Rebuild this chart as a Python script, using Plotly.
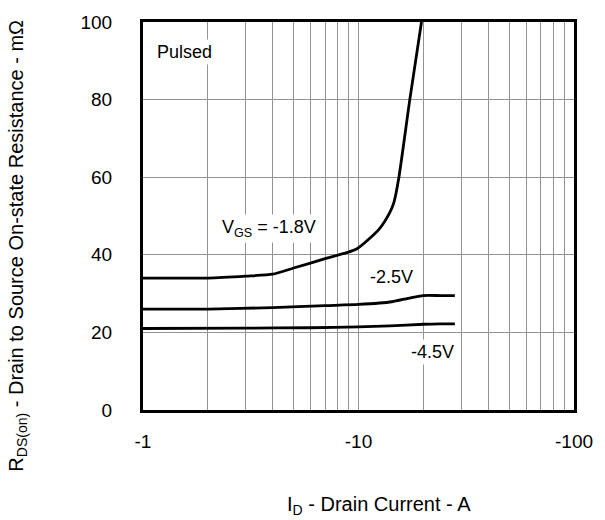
import math
import plotly.graph_objects as go

# Drain current magnitude (A) and on-resistance (mOhm) per gate voltage
id_18 = [1, 2, 3, 4, 5, 7, 9.8, 12.5, 14.0, 14.6, 15.4, 17.3, 19.6]
r_18 = [34, 34, 34.5, 35, 36.6, 39, 41.5, 46.7, 51, 53.5, 60, 80, 100]

id_25 = [1, 2, 4, 7, 10, 14.3, 17, 20, 24, 28]
r_25 = [26, 26, 26.4, 26.9, 27.2, 27.9, 28.8, 29.5, 29.5, 29.5]

id_45 = [1, 3, 6, 10, 14, 20, 24, 28]
r_45 = [21, 21.1, 21.2, 21.4, 21.7, 22.1, 22.2, 22.2]

x_tickvals = [1, 2, 3, 4, 5, 6, 7, 8, 9, 10, 20, 30, 40, 50, 60, 70, 80, 90, 100]
x_ticktext = ["-1"] + [""] * 8 + ["-10"] + [""] * 8 + ["-100"]
y_tickvals = [0, 20, 40, 60, 80, 100]

FONT = "Liberation Sans, Arial, sans-serif"

fig = go.Figure()
for xs, ys in [(id_18, r_18), (id_25, r_25), (id_45, r_45)]:
    fig.add_trace(go.Scatter(
        x=xs, y=ys, mode="lines",
        line=dict(color="black", width=2.8, shape="spline", smoothing=0.6),
        hoverinfo="skip", showlegend=False,
    ))

labels = [
    ("Pulsed", 1.55, 92.3),
    ("V<sub>GS</sub> = -1.8V", 3.84, 46.8),
    ("-2.5V", 14.3, 34.2),
    ("-4.5V", 22.0, 15.0),
]
for txt, lx, ly in labels:
    fig.add_annotation(
        x=math.log10(lx), y=ly, xref="x", yref="y", text=txt, showarrow=False,
        font=dict(family=FONT, size=18, color="black"),
        bgcolor="white", borderpad=2,
    )

fig.add_annotation(
    x=-0.292, y=0.424, xref="paper", yref="paper", textangle=-90,
    xanchor="center", yanchor="middle",
    text="R<sub>DS(on)</sub> - Drain to Source On-state Resistance - mΩ",
    showarrow=False, font=dict(family=FONT, size=20, color="black"),
)
fig.add_annotation(
    x=0.548, y=-0.247, xref="paper", yref="paper",
    xanchor="center", yanchor="middle",
    text="I<sub>D</sub> - Drain Current - A",
    showarrow=False, font=dict(family=FONT, size=20, color="black"),
)

fig.update_layout(
    width=605, height=520,
    margin=dict(l=143, r=24, t=21, b=110),
    paper_bgcolor="white", plot_bgcolor="white",
    font=dict(family=FONT, size=19, color="black"),
    xaxis=dict(
        type="log", range=[0, 2],
        tickvals=x_tickvals, ticktext=x_ticktext,
        ticks="", showgrid=True, gridcolor="#939393", gridwidth=1,
        showline=True, linecolor="black", linewidth=3, mirror=True,
        zeroline=False, ticklabelstandoff=12,
    ),
    yaxis=dict(
        range=[0, 100], tickvals=y_tickvals,
        ticks="", showgrid=True, gridcolor="#939393", gridwidth=1,
        showline=True, linecolor="black", linewidth=3, mirror=True,
        zeroline=False, ticklabelstandoff=24,
    ),
)

fig.write_html("out.html")
